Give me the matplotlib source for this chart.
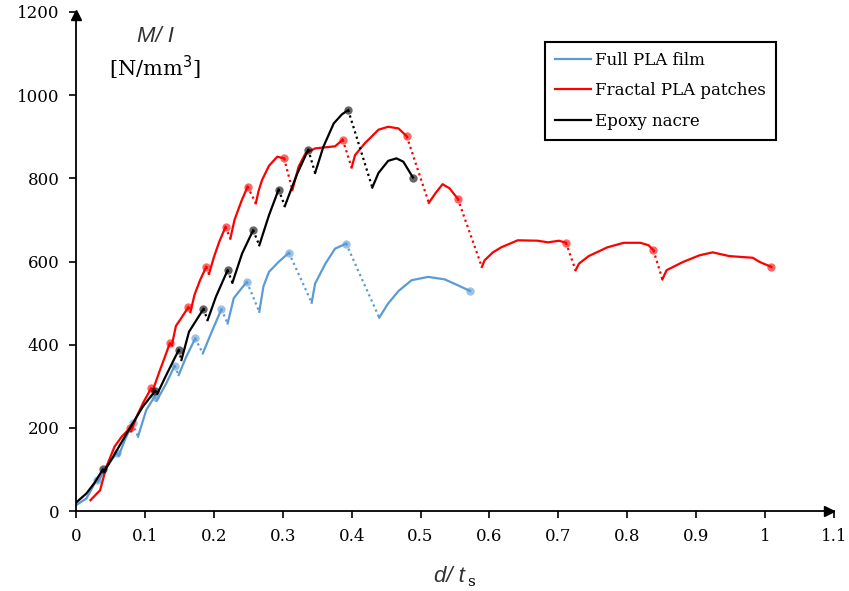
import numpy as np
import matplotlib.pyplot as plt

# Full PLA film
blue_x = [0.000, 0.015, 0.030, 0.032, 0.044, 0.059, 0.062, 0.071, 0.082, 0.090,
          0.102, 0.114, 0.117, 0.131, 0.143, 0.149, 0.160, 0.173, 0.184, 0.198,
          0.211, 0.220, 0.229, 0.240, 0.248, 0.266, 0.272, 0.280, 0.294, 0.309,
          0.342, 0.347, 0.362, 0.376, 0.392, 0.440, 0.453, 0.468, 0.487, 0.511,
          0.535, 0.554, 0.572]
blue_y = [14, 30, 75, 70, 106, 139, 133, 171, 211, 179,
          243, 275, 265, 307, 349, 327, 371, 415, 379, 435,
          485, 451, 512, 535, 551, 479, 540, 575, 599, 621,
          501, 547, 595, 631, 643, 465, 499, 529, 555, 563,
          557, 543, 529]
blue_breaks = [3, 6, 9, 12, 15, 18, 21, 25, 30, 35]

# Fractal PLA patches
red_x = [0.021, 0.035, 0.044, 0.056, 0.066, 0.078, 0.080, 0.088, 0.098, 0.109,
         0.111, 0.121, 0.130, 0.136, 0.139, 0.145, 0.152, 0.163, 0.166, 0.172,
         0.180, 0.189, 0.193, 0.200, 0.208, 0.217, 0.224, 0.230, 0.240, 0.249,
         0.261, 0.265, 0.270, 0.280, 0.292, 0.302, 0.314, 0.323, 0.333, 0.347,
         0.376, 0.387, 0.400, 0.405, 0.419, 0.439, 0.453, 0.468, 0.480, 0.512,
         0.522, 0.532, 0.542, 0.554, 0.589, 0.593, 0.605, 0.617, 0.641, 0.670,
         0.685, 0.701, 0.711, 0.725, 0.730, 0.744, 0.771, 0.795, 0.819, 0.831,
         0.838, 0.851, 0.857, 0.881, 0.905, 0.924, 0.948, 0.982, 0.992, 1.009]
red_y = [26, 50, 106, 155, 178, 199, 192, 227, 262, 295,
         288, 335, 375, 403, 398, 445, 462, 490, 478, 520,
         555, 587, 570, 610, 648, 683, 655, 700, 745, 780,
         740, 770, 796, 830, 852, 848, 772, 828, 860, 872,
         877, 893, 826, 856, 884, 917, 924, 920, 901, 741,
         765, 786, 776, 751, 587, 603, 622, 634, 651, 650,
         646, 650, 645, 579, 595, 613, 634, 645, 645, 639,
         627, 557, 579, 599, 615, 622, 613, 609, 599, 587]
red_breaks = [6, 10, 14, 18, 22, 26, 30, 36, 42, 49, 54, 63, 71]

# Epoxy nacre
black_x = [0.000, 0.015, 0.027, 0.039, 0.041, 0.054, 0.066, 0.078, 0.097, 0.115,
           0.118, 0.131, 0.149, 0.153, 0.164, 0.185, 0.191, 0.203, 0.220, 0.227,
           0.241, 0.257, 0.266, 0.280, 0.294, 0.303, 0.311, 0.321, 0.337, 0.347,
           0.359, 0.374, 0.386, 0.395, 0.430, 0.439, 0.453, 0.465, 0.475, 0.489]
black_y = [20, 42, 68, 100, 95, 131, 165, 199, 251, 289,
           282, 327, 387, 363, 431, 486, 459, 515, 579, 549,
           619, 675, 639, 711, 773, 733, 768, 811, 869, 813,
           876, 932, 954, 964, 778, 813, 842, 848, 840, 802]
black_breaks = [4, 10, 13, 16, 19, 22, 25, 29, 34]

xticks = [0, 0.1, 0.2, 0.3, 0.4, 0.5, 0.6, 0.7, 0.8, 0.9, 1, 1.1]
xtick_labels = ["0", "0.1", "0.2", "0.3", "0.4", "0.5", "0.6", "0.7", "0.8", "0.9", "1", "1.1"]
yticks = [0, 200, 400, 600, 800, 1000, 1200]

series = [
    ("Full PLA film", blue_x, blue_y, blue_breaks, "#5b9bd5"),
    ("Fractal PLA patches", red_x, red_y, red_breaks, "#ff0000"),
    ("Epoxy nacre", black_x, black_y, black_breaks, "black"),
]

fig = plt.figure(figsize=(8.49, 5.91), dpi=100)
ax = fig.add_axes([76/849, 80/591, 758/849, 499/591])

for name, xs, ys, breaks, col in series:
    xs = np.array(xs)
    ys = np.array(ys)
    starts = [0] + breaks
    ends = breaks + [len(xs)]
    for k, (a, b) in enumerate(zip(starts, ends)):
        ax.plot(xs[a:b], ys[a:b], color=col, lw=1.6,
                label=name if k == 0 else None)
        if b < len(xs):
            ax.plot(xs[b-1:b+1], ys[b-1:b+1], color=col, lw=1.6, ls=(0, (1, 1.5)))
    peaks = [e - 1 for e in ends]
    ax.plot(xs[peaks], ys[peaks], "o", color=col, ms=6, alpha=0.6, mec="none")

ax.set_xlim(0, 1.1)
ax.set_ylim(0, 1200)
ax.set_xticks(xticks)
ax.set_xticklabels(xtick_labels)
ax.set_yticks(yticks)
for s in ["top", "right"]:
    ax.spines[s].set_visible(False)
for s in ["left", "bottom"]:
    ax.spines[s].set_linewidth(1.3)
ax.tick_params(direction="out", length=5, width=1.2, labelsize=12, pad=7)
for lab in ax.get_xticklabels() + ax.get_yticklabels():
    lab.set_family("DejaVu Serif")

# arrow heads on the axes
ax.plot(0.994, 0, ">k", ms=7, transform=ax.transAxes, clip_on=False)
ax.plot(0, 0.994, "^k", ms=7, transform=ax.transAxes, clip_on=False)

leg = ax.legend(loc="upper right", bbox_to_anchor=(776/849, 1 - 42/591),
                bbox_transform=fig.transFigure, borderaxespad=0,
                prop={"family": "DejaVu Serif", "size": 12},
                fancybox=False, edgecolor="black", framealpha=1,
                labelspacing=0.8, handlelength=2.15, handletextpad=0.25,
                borderpad=0.6)
leg.get_frame().set_linewidth(1.5)

fig.text(155/849, 1 - 36/591, "M/ I", family="Liberation Sans", style="italic",
         fontsize=16, ha="center", va="center", color="#333333")
fig.text(155/849, 1 - 68/591, "[N/mm$^3$]", family="DejaVu Serif",
         fontsize=15, ha="center", va="center")
fig.text(465/849, 1 - 576/591, "d/ t", family="Liberation Sans", style="italic",
         fontsize=16, ha="right", va="center", color="#333333")
fig.text(467/849, 1 - 582/591, "s", family="DejaVu Serif",
         fontsize=11, ha="left", va="center")

fig.savefig("out.png", dpi=100)
